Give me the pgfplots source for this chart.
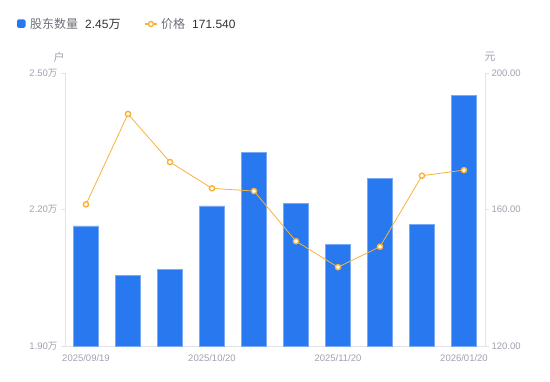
\documentclass[border=0pt]{standalone}
\usepackage{pgfplots}
\pgfplotsset{compat=1.18}
\usepackage{fontspec}
\setmainfont{Liberation Sans}
\newfontfamily\cjk{Noto Sans CJK SC}
\definecolor{barblue}{HTML}{2878F0}
\definecolor{baredge}{HTML}{7AAAF5}
\definecolor{lineor}{HTML}{F7B338}
\definecolor{axgrey}{HTML}{E3E3E6}
\definecolor{lblgrey}{HTML}{9EA1B0}
\definecolor{txtgrey}{HTML}{6E7079}
\definecolor{txtdark}{HTML}{333333}
\begin{document}
\begin{tikzpicture}
\path[use as bounding box] (0,0) rectangle (550pt,381pt);
\pgfplotsset{
  common/.style={
    scale only axis, width=420pt, height=273pt,
    at={(65pt,35pt)}, anchor=south west,
    xmin=-0.5, xmax=9.5,
    axis line style={axgrey, line width=0.8pt},
    tick style={axgrey, line width=0.8pt},
    tick align=outside,
    major tick length=4pt,
    tick label style={font=\fontsize{9.5}{11}\selectfont, text=lblgrey},
    clip=false,
  }
}
\begin{axis}[common,
  axis y line*=left, axis x line*=bottom,
  ymin=1.90, ymax=2.50,
  ytick={1.90,2.20,2.50},
  yticklabels={{1.90{\cjk 万}},{2.20{\cjk 万}},{2.50{\cjk 万}}},
  xtick={0,3,6,9},
  xticklabels={2025/09/19,2025/10/20,2025/11/20,2026/01/20},
  x tick style={draw=none},
  xticklabel style={yshift=-1pt},
  ybar, bar width=25pt,
]
\addplot[fill=barblue, draw=baredge, line width=0.7pt] coordinates {
 (0,2.164) (1,2.056) (2,2.069) (3,2.208) (4,2.326)
 (5,2.214) (6,2.124) (7,2.269) (8,2.167) (9,2.451)};
\end{axis}
\begin{axis}[common,
  axis y line*=right, axis x line=none,
  ymin=120, ymax=200,
  ytick={120,160,200},
  yticklabels={120.00,160.00,200.00},
  yticklabel style={xshift=-1pt},
]
\addplot[color=lineor, line width=0.8pt, mark=*, mark size=2.6pt,
  mark options={fill=white, draw=lineor, line width=1.4pt}] coordinates {
 (0,161.5) (1,188.0) (2,173.9) (3,166.2) (4,165.4)
 (5,150.7) (6,143.1) (7,149.1) (8,169.9) (9,171.54)};
\end{axis}
% unit labels
\node[text=lblgrey, font=\cjk\fontsize{11}{12}\selectfont] at (59pt,324pt) {户};
\node[text=lblgrey, font=\cjk\fontsize{11}{12}\selectfont] at (490pt,324pt) {元};
% legend
\fill[barblue, rounded corners=1.5pt] (17pt,353pt) rectangle (25.5pt,361.5pt);
\node[anchor=west, inner sep=0pt, text=txtgrey, font=\cjk\fontsize{12}{14}\selectfont] at (30pt,357pt) {股东数量};
\node[anchor=west, inner sep=0pt, text=txtdark, font=\fontsize{12}{14}\selectfont] at (85pt,357pt) {2.45{\cjk 万}};
\draw[lineor, line width=1.2pt] (145pt,357pt) -- (157pt,357pt);
\draw[lineor, line width=1.4pt, fill=white] (151pt,357pt) circle (2.5pt);
\node[anchor=west, inner sep=0pt, text=txtgrey, font=\cjk\fontsize{12}{14}\selectfont] at (161pt,357pt) {价格};
\node[anchor=west, inner sep=0pt, text=txtdark, font=\fontsize{12}{14}\selectfont] at (192pt,357pt) {171.540};
\end{tikzpicture}
\end{document}
